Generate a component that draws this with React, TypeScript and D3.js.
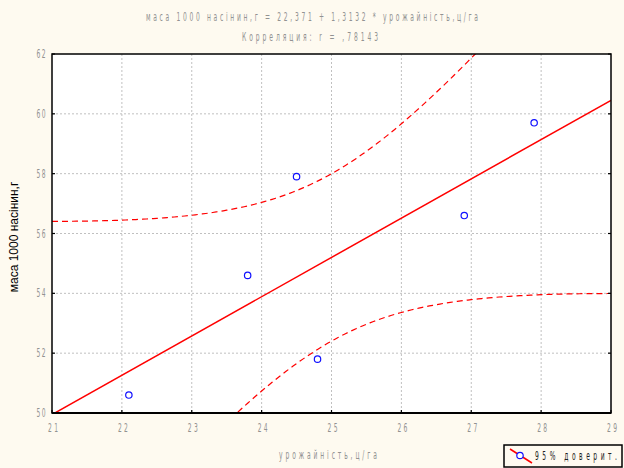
import React from "react";
import * as d3 from "d3";

// урожайність, ц/га  vs  маса 1000 насінин, г
const yieldValues = [22.1, 23.8, 24.5, 24.8, 26.9, 27.9];
const massValues = [50.6, 54.6, 57.9, 51.8, 56.6, 59.7];

const xTicks = [21, 22, 23, 24, 25, 26, 27, 28, 29];
const yTicks = [50, 52, 54, 56, 58, 60, 62];

const titleLine1 = "маса 1000 насінин,г = 22,371 + 1,3132 * урожайність,ц/га";
const titleLine2 = "Корреляция: r =  ,78143";
const xTitle = "урожайність,ц/га";
const yTitle = "маса 1000 насінин,г";
const legendLabel = "95% доверит.";

const T_975_DF4 = 2.776;

const W = 624;
const H = 468;
const m = { left: 52, top: 54, right: 611, bottom: 413 };

const labelGray = "#929292";

// thin, narrow glyphs spread out to a given width (old Statistica look)
const Spaced = ({ x, y, width, anchor = "middle", size = 12, fill = labelGray, sx = 0.5, children }: {
  x: number; y: number; width: number; anchor?: string; size?: number; fill?: string; sx?: number; children: string;
}) => (
  <g transform={`translate(${x},${y}) scale(${sx},1)`}>
    <text x={0} y={0} textAnchor={anchor} fontFamily="'DejaVu Sans', sans-serif" fontSize={size}
      fill={fill} textLength={width / sx} lengthAdjust="spacing">{children}</text>
  </g>
);

export default function App() {
  const x = d3.scaleLinear().domain([21, 29]).range([m.left, m.right]);
  const y = d3.scaleLinear().domain([50, 62]).range([m.bottom, m.top]);

  // least squares fit + 95% confidence band of the mean
  const n = yieldValues.length;
  const mx = d3.mean(yieldValues)!;
  const my = d3.mean(massValues)!;
  const sxx = d3.sum(yieldValues, v => (v - mx) ** 2);
  const sxy = d3.sum(yieldValues, (v, i) => (v - mx) * (massValues[i] - my));
  const slope = sxy / sxx;
  const icpt = my - slope * mx;
  const sse = d3.sum(yieldValues, (v, i) => (massValues[i] - (icpt + slope * v)) ** 2);
  const s = Math.sqrt(sse / (n - 2));
  const fit = (v: number) => icpt + slope * v;
  const half = (v: number) => T_975_DF4 * s * Math.sqrt(1 / n + (v - mx) ** 2 / sxx);

  const grid = d3.range(21, 29.0001, 0.05);
  const upper = d3.line<number>().x(v => x(v)).y(v => y(fit(v) + half(v)))(grid)!;
  const lower = d3.line<number>().x(v => x(v)).y(v => y(fit(v) - half(v)))(grid)!;

  return (
    <svg
      width={W}
      height={H}
      style={{ position: "fixed", left: 0, top: 0, background: "#fefaf0" }}
    >
      <defs>
        <clipPath id="plot">
          <rect x={m.left} y={m.top} width={m.right - m.left} height={m.bottom - m.top} />
        </clipPath>
      </defs>

      <Spaced x={312} y={21} width={332}>{titleLine1}</Spaced>
      <Spaced x={310} y={41} width={136}>{titleLine2}</Spaced>

      <rect x={m.left} y={m.top} width={m.right - m.left} height={m.bottom - m.top} fill="#ffffff" />

      {/* grid */}
      {xTicks.slice(1, -1).map(t => (
        <line key={"gx" + t} x1={x(t)} x2={x(t)} y1={m.top} y2={m.bottom}
          stroke="#c0c0c0" strokeWidth={1} strokeDasharray="2,2" />
      ))}
      {yTicks.slice(1, -1).map(t => (
        <line key={"gy" + t} x1={m.left} x2={m.right} y1={y(t)} y2={y(t)}
          stroke="#c0c0c0" strokeWidth={1} strokeDasharray="2,2" />
      ))}

      <g clipPath="url(#plot)">
        <path d={upper} fill="none" stroke="#ff0000" strokeWidth={1.2} strokeDasharray="6,4" />
        <path d={lower} fill="none" stroke="#ff0000" strokeWidth={1.2} strokeDasharray="6,4" />
        <line x1={x(21)} y1={y(fit(21))} x2={x(29)} y2={y(fit(29))} stroke="#ff0000" strokeWidth={1.5} />
      </g>

      {yieldValues.map((v, i) => (
        <circle key={i} cx={x(v)} cy={y(massValues[i])} r={3.2} fill="none" stroke="#1010ff" strokeWidth={1.2} />
      ))}

      {/* frame + inner ticks */}
      <rect x={m.left} y={m.top} width={m.right - m.left} height={m.bottom - m.top}
        fill="none" stroke="#000" strokeWidth={1.5} />
      <line x1={m.left} x2={m.right} y1={m.bottom} y2={m.bottom} stroke="#000" strokeWidth={2} />
      {yTicks.map(t => (
        <g key={"ty" + t}>
          <line x1={m.left} x2={m.left + 3} y1={y(t)} y2={y(t)} stroke="#000" strokeWidth={1.2} />
          <line x1={m.right - 3} x2={m.right} y1={y(t)} y2={y(t)} stroke="#000" strokeWidth={1.2} />
          <Spaced x={m.left - 11} y={y(t) + 4} width={9}>{String(t)}</Spaced>
        </g>
      ))}
      {xTicks.map(t => (
        <g key={"tx" + t}>
          <line x1={x(t)} x2={x(t)} y1={m.bottom - 3} y2={m.bottom} stroke="#000" strokeWidth={1.2} />
          <Spaced x={x(t) + 1} y={432} width={10}>{String(t)}</Spaced>
        </g>
      ))}

      <Spaced x={328} y={459} width={98}>{xTitle}</Spaced>
      <text transform="translate(18,237) rotate(-90)" textAnchor="middle"
        fontFamily="'Liberation Sans', Arial, sans-serif" fontSize={12} fill="#000">{yTitle}</text>

      {/* legend */}
      <rect x={504} y={445} width={118} height={22} fill="#fefaf0" stroke="#000" strokeWidth={1.5} />
      <line x1={510} y1={449} x2={532} y2={463} stroke="#ff0000" strokeWidth={1.5} />
      <circle cx={520} cy={455.5} r={3.2} fill="#fff" stroke="#1010ff" strokeWidth={1.2} />
      <Spaced x={535} y={460} width={82} anchor="start" fill="#222">{legendLabel}</Spaced>
    </svg>
  );
}
